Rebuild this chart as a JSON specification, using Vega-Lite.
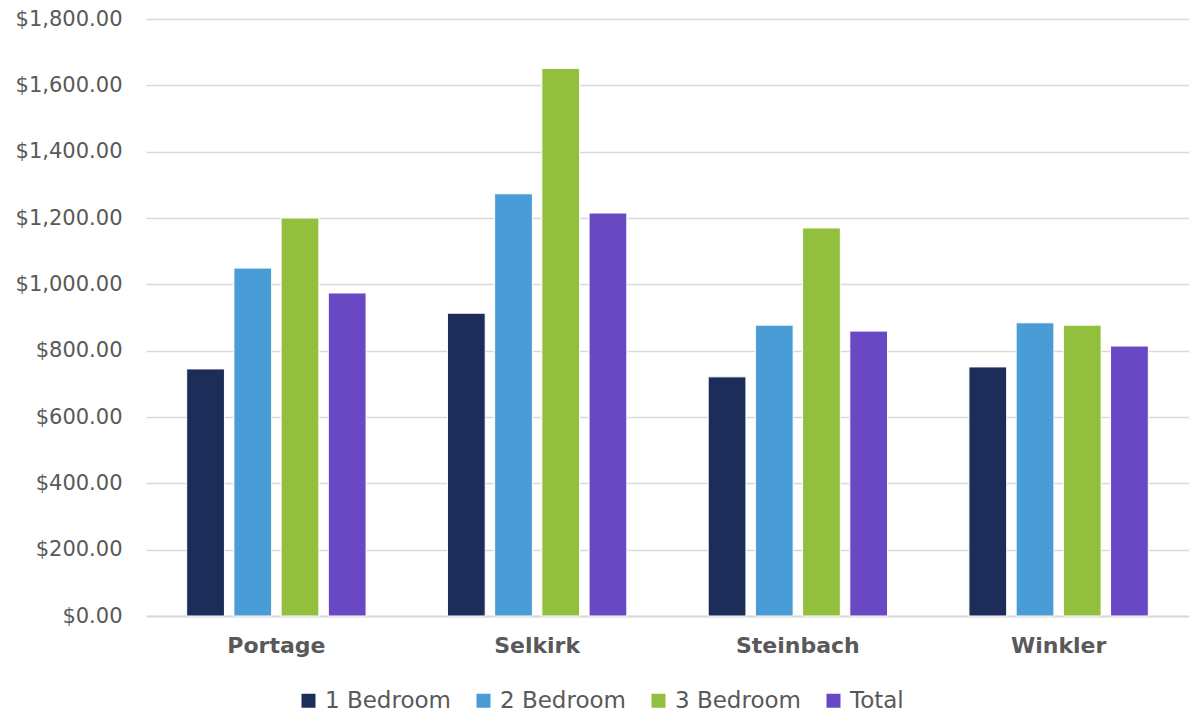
{
  "$schema": "https://vega.github.io/schema/vega-lite/v6.json",
  "width": 1043,
  "height": 597,
  "autosize": {"type": "none"},
  "padding": {"left": 146, "top": 19, "right": 0, "bottom": 99},
  "background": "white",
  "config": {
    "view": {"stroke": null},
    "font": "DejaVu Sans"
  },
  "data": {
    "values": [
      {"city": "Portage", "type": "1 Bedroom", "rent": 745},
      {"city": "Portage", "type": "2 Bedroom", "rent": 1049},
      {"city": "Portage", "type": "3 Bedroom", "rent": 1200},
      {"city": "Portage", "type": "Total", "rent": 974},
      {"city": "Selkirk", "type": "1 Bedroom", "rent": 913},
      {"city": "Selkirk", "type": "2 Bedroom", "rent": 1273},
      {"city": "Selkirk", "type": "3 Bedroom", "rent": 1651},
      {"city": "Selkirk", "type": "Total", "rent": 1215},
      {"city": "Steinbach", "type": "1 Bedroom", "rent": 721},
      {"city": "Steinbach", "type": "2 Bedroom", "rent": 877},
      {"city": "Steinbach", "type": "3 Bedroom", "rent": 1170},
      {"city": "Steinbach", "type": "Total", "rent": 859},
      {"city": "Winkler", "type": "1 Bedroom", "rent": 751},
      {"city": "Winkler", "type": "2 Bedroom", "rent": 884},
      {"city": "Winkler", "type": "3 Bedroom", "rent": 877},
      {"city": "Winkler", "type": "Total", "rent": 814}
    ]
  },
  "mark": {"type": "bar", "stroke": "white", "strokeWidth": 1},
  "encoding": {
    "x": {
      "field": "city",
      "type": "nominal",
      "sort": null,
      "scale": {"paddingInner": 0.312, "paddingOuter": 0.156},
      "axis": {
        "title": null,
        "labelAngle": 0,
        "labelFontSize": 22,
        "labelFontWeight": "bold",
        "labelColor": "#595959",
        "labelPadding": 19,
        "ticks": false,
        "domainColor": "#d9d9d9",
        "domainWidth": 2
      }
    },
    "xOffset": {
      "field": "type",
      "type": "nominal",
      "sort": null,
      "scale": {"paddingInner": 0.2, "paddingOuter": 0}
    },
    "y": {
      "field": "rent",
      "type": "quantitative",
      "scale": {"domain": [0, 1800], "nice": false},
      "axis": {
        "title": null,
        "values": [0, 200, 400, 600, 800, 1000, 1200, 1400, 1600, 1800],
        "format": "$,.2f",
        "labelFontSize": 21,
        "labelColor": "#595959",
        "labelPadding": 24,
        "ticks": false,
        "domain": false,
        "gridColor": "#d9d9d9",
        "gridWidth": 1.5
      }
    },
    "color": {
      "field": "type",
      "type": "nominal",
      "sort": null,
      "scale": {
        "domain": ["1 Bedroom", "2 Bedroom", "3 Bedroom", "Total"],
        "range": ["#1b2d58", "#4a9cd6", "#92c03e", "#6849c3"]
      },
      "legend": {
        "title": null,
        "orient": "none",
        "direction": "horizontal",
        "legendX": 151,
        "legendY": 670,
        "symbolType": "square",
        "symbolSize": 196,
        "symbolStrokeWidth": 0,
        "labelFontSize": 23,
        "labelColor": "#595959",
        "labelOffset": 5,
        "columnPadding": 21
      }
    }
  }
}
